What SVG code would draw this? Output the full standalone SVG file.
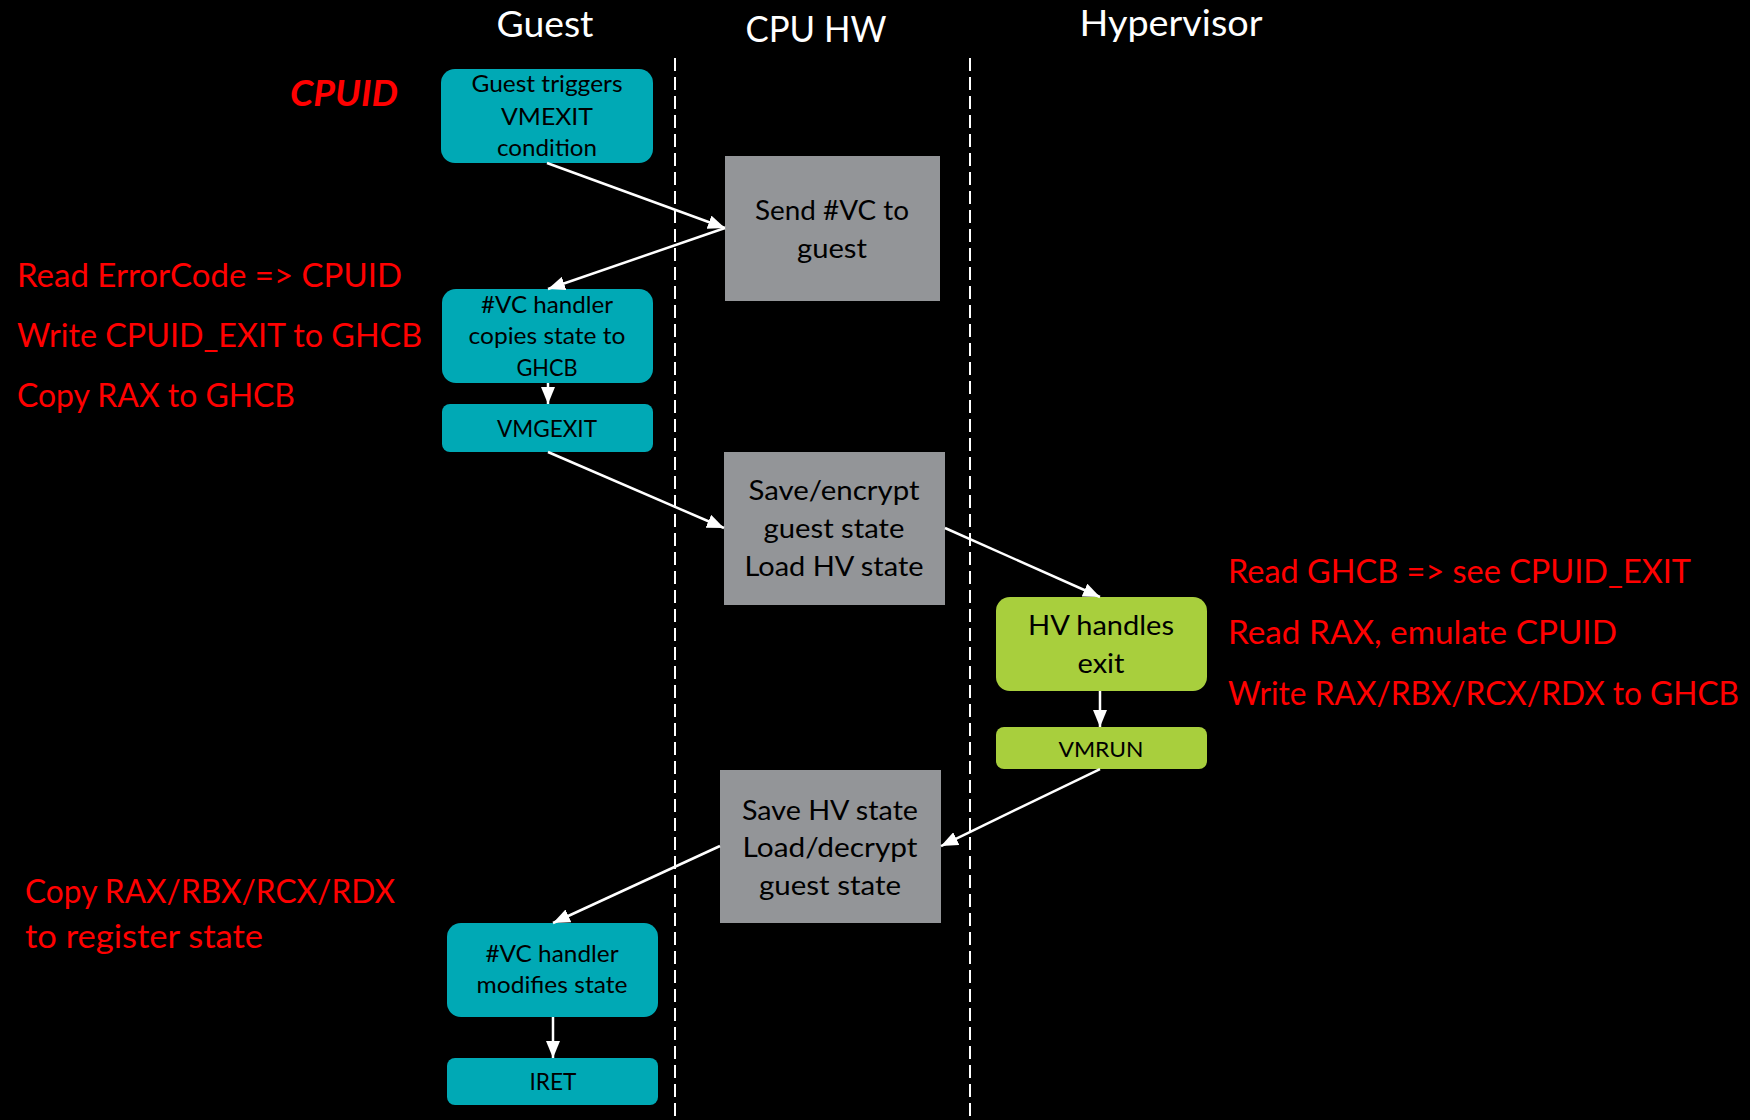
<svg xmlns="http://www.w3.org/2000/svg" width="1750" height="1120" viewBox="0 0 1750 1120">
<defs>
<style>
text{font-family:Lato,"Open Sans","Liberation Sans",sans-serif}
.title{fill:#fff;font-size:36px;text-anchor:middle}
.red{fill:#f00;font-size:32px}
.bt{fill:#000;text-anchor:middle}
.s23{font-size:24px}
.s26{font-size:27px}
.s21{font-size:21px}
.teal{fill:#00A9B5}
.gray{fill:#939598}
.green{fill:#A8CF3D}
.conn line{stroke:#fff;stroke-width:2.5;marker-end:url(#ah)}
.lane{stroke:#fff;stroke-width:2;stroke-dasharray:13 6}
</style>
<marker id="ah" markerUnits="userSpaceOnUse" markerWidth="17" markerHeight="14" viewBox="0 0 17 14" refX="17" refY="7" orient="auto">
<path d="M0,0 L17,7 L0,14 z" fill="#fff"/>
</marker>
</defs>
<rect width="1750" height="1120" fill="#000"/>

<g id="lanes">
<line class="lane" x1="675" y1="58" x2="675" y2="1120"/>
<line class="lane" x1="970" y1="58" x2="970" y2="1120"/>
<text class="title" x="545" y="37" textLength="97" lengthAdjust="spacingAndGlyphs">Guest</text>
<text class="title" x="816" y="42" textLength="141" lengthAdjust="spacingAndGlyphs">CPU HW</text>
<text class="title" x="1171" y="36" textLength="183" lengthAdjust="spacingAndGlyphs">Hypervisor</text>
</g>

<g id="notes">
<text class="red" x="290" y="106" style="font-size:36px;font-weight:bold;font-style:italic" textLength="108" lengthAdjust="spacingAndGlyphs">CPUID</text>
<text class="red" x="17" y="287" textLength="385" lengthAdjust="spacingAndGlyphs">Read ErrorCode =&gt; CPUID</text>
<text class="red" x="17" y="347" textLength="405" lengthAdjust="spacingAndGlyphs">Write CPUID_EXIT to GHCB</text>
<text class="red" x="17" y="407" textLength="278" lengthAdjust="spacingAndGlyphs">Copy RAX to GHCB</text>
<text class="red" x="1228" y="583" textLength="463" lengthAdjust="spacingAndGlyphs">Read GHCB =&gt; see CPUID_EXIT</text>
<text class="red" x="1228" y="644" textLength="389" lengthAdjust="spacingAndGlyphs">Read RAX, emulate CPUID</text>
<text class="red" x="1228" y="705" textLength="511" lengthAdjust="spacingAndGlyphs">Write RAX/RBX/RCX/RDX to GHCB</text>
<text class="red" x="25" y="903" textLength="370" lengthAdjust="spacingAndGlyphs">Copy RAX/RBX/RCX/RDX</text>
<text class="red" x="25" y="948" textLength="238" lengthAdjust="spacingAndGlyphs">to register state</text>
</g>

<g id="n1">
<rect class="teal" x="441" y="69" width="212" height="94" rx="14"/>
<text class="bt s23" x="547" y="92" textLength="151" lengthAdjust="spacingAndGlyphs">Guest triggers</text>
<text class="bt s23" x="547" y="125" textLength="92" lengthAdjust="spacingAndGlyphs">VMEXIT</text>
<text class="bt s23" x="547" y="156" textLength="100" lengthAdjust="spacingAndGlyphs">condition</text>
</g>
<g id="n2">
<rect class="gray" x="725" y="156" width="215" height="145"/>
<text class="bt s26" x="832" y="220" textLength="154" lengthAdjust="spacingAndGlyphs">Send #VC to</text>
<text class="bt s26" x="832" y="258" textLength="70" lengthAdjust="spacingAndGlyphs">guest</text>
</g>
<g id="n3">
<rect class="teal" x="442" y="289" width="211" height="94" rx="14"/>
<text class="bt s23" x="547" y="313" textLength="132" lengthAdjust="spacingAndGlyphs">#VC handler</text>
<text class="bt s23" x="547" y="344" textLength="157" lengthAdjust="spacingAndGlyphs">copies state to</text>
<text class="bt s23" x="547" y="376" textLength="61" lengthAdjust="spacingAndGlyphs">GHCB</text>
</g>
<g id="n4">
<rect class="teal" x="442" y="404" width="211" height="48" rx="8"/>
<text class="bt s23" x="547" y="437" textLength="100" lengthAdjust="spacingAndGlyphs">VMGEXIT</text>
</g>
<g id="n5">
<rect class="gray" x="724" y="452" width="221" height="153"/>
<text class="bt s26" x="834" y="500" textLength="171" lengthAdjust="spacingAndGlyphs">Save/encrypt</text>
<text class="bt s26" x="834" y="538" textLength="141" lengthAdjust="spacingAndGlyphs">guest state</text>
<text class="bt s26" x="834" y="576" textLength="179" lengthAdjust="spacingAndGlyphs">Load HV state</text>
</g>
<g id="n6">
<rect class="green" x="996" y="597" width="211" height="94" rx="14"/>
<text class="bt s26" x="1101" y="635" textLength="146" lengthAdjust="spacingAndGlyphs">HV handles</text>
<text class="bt s26" x="1101" y="673" textLength="47" lengthAdjust="spacingAndGlyphs">exit</text>
</g>
<g id="n7">
<rect class="green" x="996" y="727" width="211" height="42" rx="8"/>
<text class="bt s21" x="1101" y="757" textLength="85" lengthAdjust="spacingAndGlyphs">VMRUN</text>
</g>
<g id="n8">
<rect class="gray" x="720" y="770" width="221" height="153"/>
<text class="bt s26" x="830" y="820" textLength="176" lengthAdjust="spacingAndGlyphs">Save HV state</text>
<text class="bt s26" x="830" y="857" textLength="175" lengthAdjust="spacingAndGlyphs">Load/decrypt</text>
<text class="bt s26" x="830" y="895" textLength="142" lengthAdjust="spacingAndGlyphs">guest state</text>
</g>
<g id="n9">
<rect class="teal" x="447" y="923" width="211" height="94" rx="14"/>
<text class="bt s23" x="552" y="962" textLength="133" lengthAdjust="spacingAndGlyphs">#VC handler</text>
<text class="bt s23" x="552" y="993" textLength="151" lengthAdjust="spacingAndGlyphs">modifies state</text>
</g>
<g id="n10">
<rect class="teal" x="447" y="1058" width="211" height="47" rx="8"/>
<text class="bt s23" x="553" y="1090" textLength="47" lengthAdjust="spacingAndGlyphs">IRET</text>
</g>

<g id="connectors" class="conn">
<line x1="547" y1="163" x2="725" y2="228"/>
<line x1="725" y1="228" x2="548" y2="289"/>
<line x1="548" y1="383" x2="548" y2="404"/>
<line x1="548" y1="452" x2="724" y2="528"/>
<line x1="945" y1="528" x2="1100" y2="597"/>
<line x1="1100" y1="691" x2="1100" y2="727"/>
<line x1="1100" y1="769" x2="941" y2="846"/>
<line x1="720" y1="846" x2="553" y2="923"/>
<line x1="553" y1="1017" x2="553" y2="1058"/>
</g>
</svg>
